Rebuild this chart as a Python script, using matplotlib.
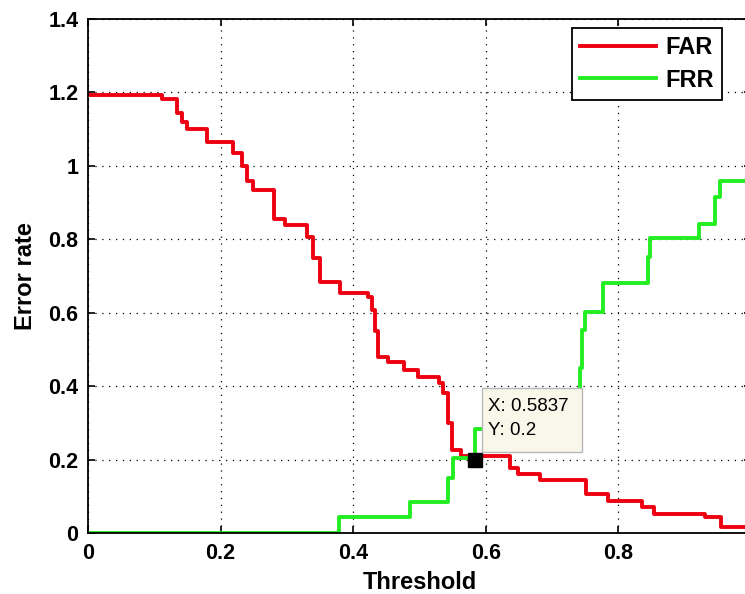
import matplotlib.pyplot as plt
from matplotlib.patches import Rectangle

# FAR / FRR curves (step levels, x = start of each level)
far_x = [0, 0.111, 0.134, 0.142, 0.150, 0.180, 0.218, 0.232, 0.240, 0.249,
         0.280, 0.297, 0.330, 0.340, 0.350, 0.380, 0.422, 0.428, 0.433, 0.437,
         0.452, 0.476, 0.498, 0.529, 0.536, 0.543, 0.549, 0.562, 0.636, 0.648,
         0.682, 0.751, 0.785, 0.836, 0.854, 0.930, 0.955, 1.0]
far_y = [1.193, 1.183, 1.144, 1.12, 1.10, 1.065, 1.035, 1.0, 0.96, 0.935,
         0.855, 0.84, 0.806, 0.75, 0.684, 0.654, 0.643, 0.608, 0.55, 0.48,
         0.466, 0.444, 0.425, 0.409, 0.38, 0.30, 0.226, 0.21, 0.177, 0.16,
         0.144, 0.105, 0.087, 0.071, 0.053, 0.044, 0.016, 0.016]

frr_x = [0, 0.379, 0.486, 0.543, 0.550, 0.584, 0.742, 0.745, 0.750, 0.777,
         0.845, 0.848, 0.921, 0.945, 0.953, 1.0]
frr_y = [0, 0.044, 0.084, 0.15, 0.205, 0.283, 0.45, 0.553, 0.602, 0.681,
         0.752, 0.804, 0.842, 0.916, 0.959, 0.959]

tip_x, tip_y = 0.5837, 0.2

xticks = [0, 0.2, 0.4, 0.6, 0.8, 1]
yticks = [0, 0.2, 0.4, 0.6, 0.8, 1, 1.2, 1.4]
ytick_labels = ['0', '0.2', '0.4', '0.6', '0.8', '1', '1.2', '1.4']

plt.rcParams['font.family'] = ['Liberation Sans', 'DejaVu Sans']

fig = plt.figure(figsize=(7.45, 5.94), dpi=100)
ax = fig.add_axes([0.1181, 0.1027, 0.890, 0.8653])

ax.plot(far_x, far_y, color='#ee0010', lw=2.8, drawstyle='steps-post', label='FAR')
ax.plot(frr_x, frr_y, color='#22ee22', lw=2.8, drawstyle='steps-post', label='FRR')

# data tip: marker + opaque box
ax.plot([tip_x], [tip_y], 's', color='black', ms=10.5, zorder=5)
ax.add_patch(Rectangle((0.594, 0.221), 0.151, 0.174, fc='#f8f7ea', ec='#b8b8b8',
                       lw=1, zorder=6))
ax.text(0.603, 0.344, 'X: 0.5837', fontsize=13.5, va='center', ha='left', zorder=7)
ax.text(0.603, 0.279, 'Y: 0.2', fontsize=13.5, va='center', ha='left', zorder=7)

ax.set_xlim(0, 1)
ax.set_ylim(0, 1.4)
ax.set_xticks(xticks)
ax.set_xticklabels(['0', '0.2', '0.4', '0.6', '0.8', '1'])
ax.set_yticks(yticks)
ax.set_yticklabels(ytick_labels)
ax.tick_params(direction='in', length=5, width=1.2, top=True, right=True,
               labelsize=15.5, pad=7)
for lab in ax.get_xticklabels() + ax.get_yticklabels():
    lab.set_fontweight('bold')

ax.grid(True, color='black', linestyle=(0, (1, 4.5)), lw=0.9)
for sp in ax.spines.values():
    sp.set_linewidth(1.3)

ax.set_xlabel('Threshold', fontsize=17, fontweight='bold', labelpad=5)
ax.set_ylabel('Error rate', fontsize=17, fontweight='bold', labelpad=8)

leg = ax.legend(loc='upper right', bbox_to_anchor=(0.956, 0.9825), borderaxespad=0,
                fancybox=False, edgecolor='black', framealpha=1,
                prop={'weight': 'bold', 'size': 17}, handlelength=3.2,
                handletextpad=0.4, labelspacing=0.4, borderpad=0.35)
leg.get_frame().set_linewidth(1.3)

fig.savefig('out.png', dpi=100)
